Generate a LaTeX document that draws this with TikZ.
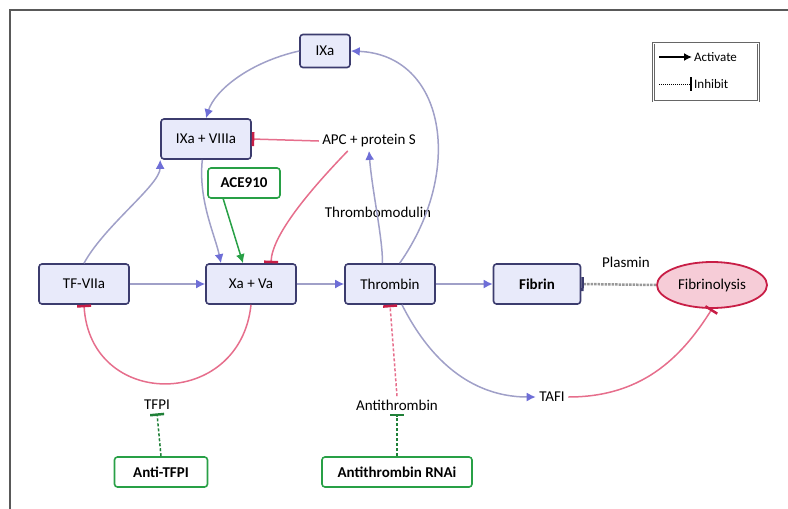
\documentclass[tikz,border=0pt]{standalone}
\usepackage{fontspec}
\setmainfont{Carlito}
\usetikzlibrary{positioning, calc, arrows.meta, shapes.geometric}

\definecolor{boxline}{RGB}{60,60,110}
\definecolor{boxfill}{RGB}{232,234,250}
\definecolor{actline}{RGB}{160,160,200}
\definecolor{acthead}{RGB}{110,110,215}
\definecolor{inhline}{RGB}{230,110,140}
\definecolor{inhbar}{RGB}{200,30,70}
\definecolor{drugline}{RGB}{40,160,70}

\begin{document}
\begin{tikzpicture}[
    x=1pt, y=-1pt,
    font=\fontsize{15}{17}\selectfont,
    factor/.style={
        draw=boxline,
        line width=1.6pt,
        rounded corners=3pt,
        fill=boxfill,
        minimum height=40pt,
        minimum width=90pt,
        inner xsep=2pt,
    },
    drug/.style={
        draw=drugline,
        line width=1.6pt,
        rounded corners=3pt,
        fill=white,
        minimum height=30pt,
        inner xsep=2pt,
        font=\fontsize{15}{17}\selectfont\bfseries,
    },
    arrow/.style={
        -{Latex[length=9pt, width=9pt, color=acthead]},
        draw=actline,
        line width=1.5pt,
    },
    inhibit/.style={
        -{Bar[width=14pt, line width=2.5pt, color=inhbar]},
        draw=inhline,
        line width=1.5pt,
    },
    druginhibit/.style={
        -{Bar[width=14pt, line width=2.5pt]},
        draw=drugline!80!black,
        line width=1.5pt,
        densely dashed,
    },
]

    \useasboundingbox (0,0) rectangle (788,509);
    \draw[gray!70!black, line width=1.2pt] (10,509) -- (10,10) -- (788,10);

    % factors
    \node[factor, minimum width=50pt, minimum height=33pt] (IXa) at (325,51) {IXa};
    \node[factor] (IXaVIIIa) at (206,139) {IXa + VIIIa};
    \node[factor] (TFVIIa) at (84,284) {TF-VIIa};
    \node[factor] (XaVa) at (251,284) {Xa + Va};
    \node[factor] (thrombin) at (390,284) {Thrombin};
    \node[factor, minimum width=87pt] (fibrin) at (537,284) {\textbf{Fibrin}};
    \node[draw=inhbar, line width=1.8pt, ellipse, fill=inhline!35, minimum width=110pt,
        minimum height=46pt, inner sep=0pt] (fibrinolysis) at (712,285) {Fibrinolysis};

    % plain labels
    \node (APC) at (369,141) {APC + protein S};
    \node (TM) at (378,212) {Thrombomodulin};
    \node (plasmin) at (626,262) {Plasmin};
    \node (TAFI) at (552,397) {TAFI};
    \node (TFPI) at (157,405) {TFPI};
    \node (AT) at (397,405) {Antithrombin};

    % drugs
    \node[drug, minimum width=72pt] (ACE) at (244,183) {ACE910};
    \node[drug, minimum width=93pt] (antiTFPI) at (161,472) {Anti-TFPI};
    \node[drug, minimum width=150pt] (RNAi) at (397,472) {Antithrombin RNAi};

    % activation
    \draw[arrow] (TFVIIa) -- (XaVa);
    \draw[arrow] (XaVa) -- (thrombin);
    \draw[arrow] (thrombin) -- (fibrin);
    \draw[arrow] (TFVIIa.north) .. controls (105,225) and (160,185) .. (IXaVIIIa.south west);
    \draw[arrow] (IXa.west) .. controls (250,62) and (215,90) .. (IXaVIIIa.north);
    \draw[arrow] (thrombin.65) .. controls (465,170) and (445,55) .. (IXa.east);
    \draw[arrow] (thrombin.110) .. controls (383,240) and (372,190) .. (APC.south);
    \draw[arrow] (IXaVIIIa.-100) .. controls (198,200) and (215,235) .. ($(XaVa.north)+(-30,0)$);
    \draw[arrow] (thrombin.300) .. controls (440,380) and (490,397) .. (TAFI.west);
    \draw[-{Latex[length=9pt, width=9pt]}, drugline, line width=1.5pt]
        (ACE.south west) ++(16,0) -- ($(XaVa.north)+(-8,0)$);

    % inhibition
    \draw[inhibit] (APC.west) -- (IXaVIIIa.east);
    \draw[inhibit] (APC.205) .. controls (310,190) and (272,235) .. ($(XaVa.north)+(20,0)$);
    \draw[inhibit] (XaVa.south) .. controls (240,410) and (90,410) .. (TFVIIa.south);
    \draw[inhibit] (TAFI.east) .. controls (640,397) and (680,360) .. (fibrinolysis.south);
    \draw[inhibit, densely dashed] (AT.north) -- (thrombin.south);
    \draw[-{Bar[width=14pt, line width=2.5pt, color=boxline]}, draw=gray!80, line width=2.5pt, densely dotted]
        (fibrinolysis.west) -- (fibrin.east);
    \draw[druginhibit] (antiTFPI.north) -- (TFPI.south);
    \draw[druginhibit] (RNAi.north) -- (AT.south);

    % legend
    \node[draw=gray!80!black, double, line width=1pt, minimum width=105pt, minimum height=58pt] (legend) at (706,72) {};
    \coordinate (act) at (659,57);
    \coordinate (inh) at (659,84);
    \node[right, inner xsep=2pt, font=\fontsize{13}{15}\selectfont] (actlabel) at (692,57) {Activate};
    \node[right, inner xsep=2pt, font=\fontsize{13}{15}\selectfont] (inhlabel) at (692,84) {Inhibit};
    \draw[-{Latex[length=8pt, width=8pt]}, line width=1.5pt] (act) -- (actlabel.west);
    \draw[-{Bar[width=14pt, line width=2pt]}, densely dotted, line width=1pt] (inh) -- (inhlabel.west);

\end{tikzpicture}
\end{document}
